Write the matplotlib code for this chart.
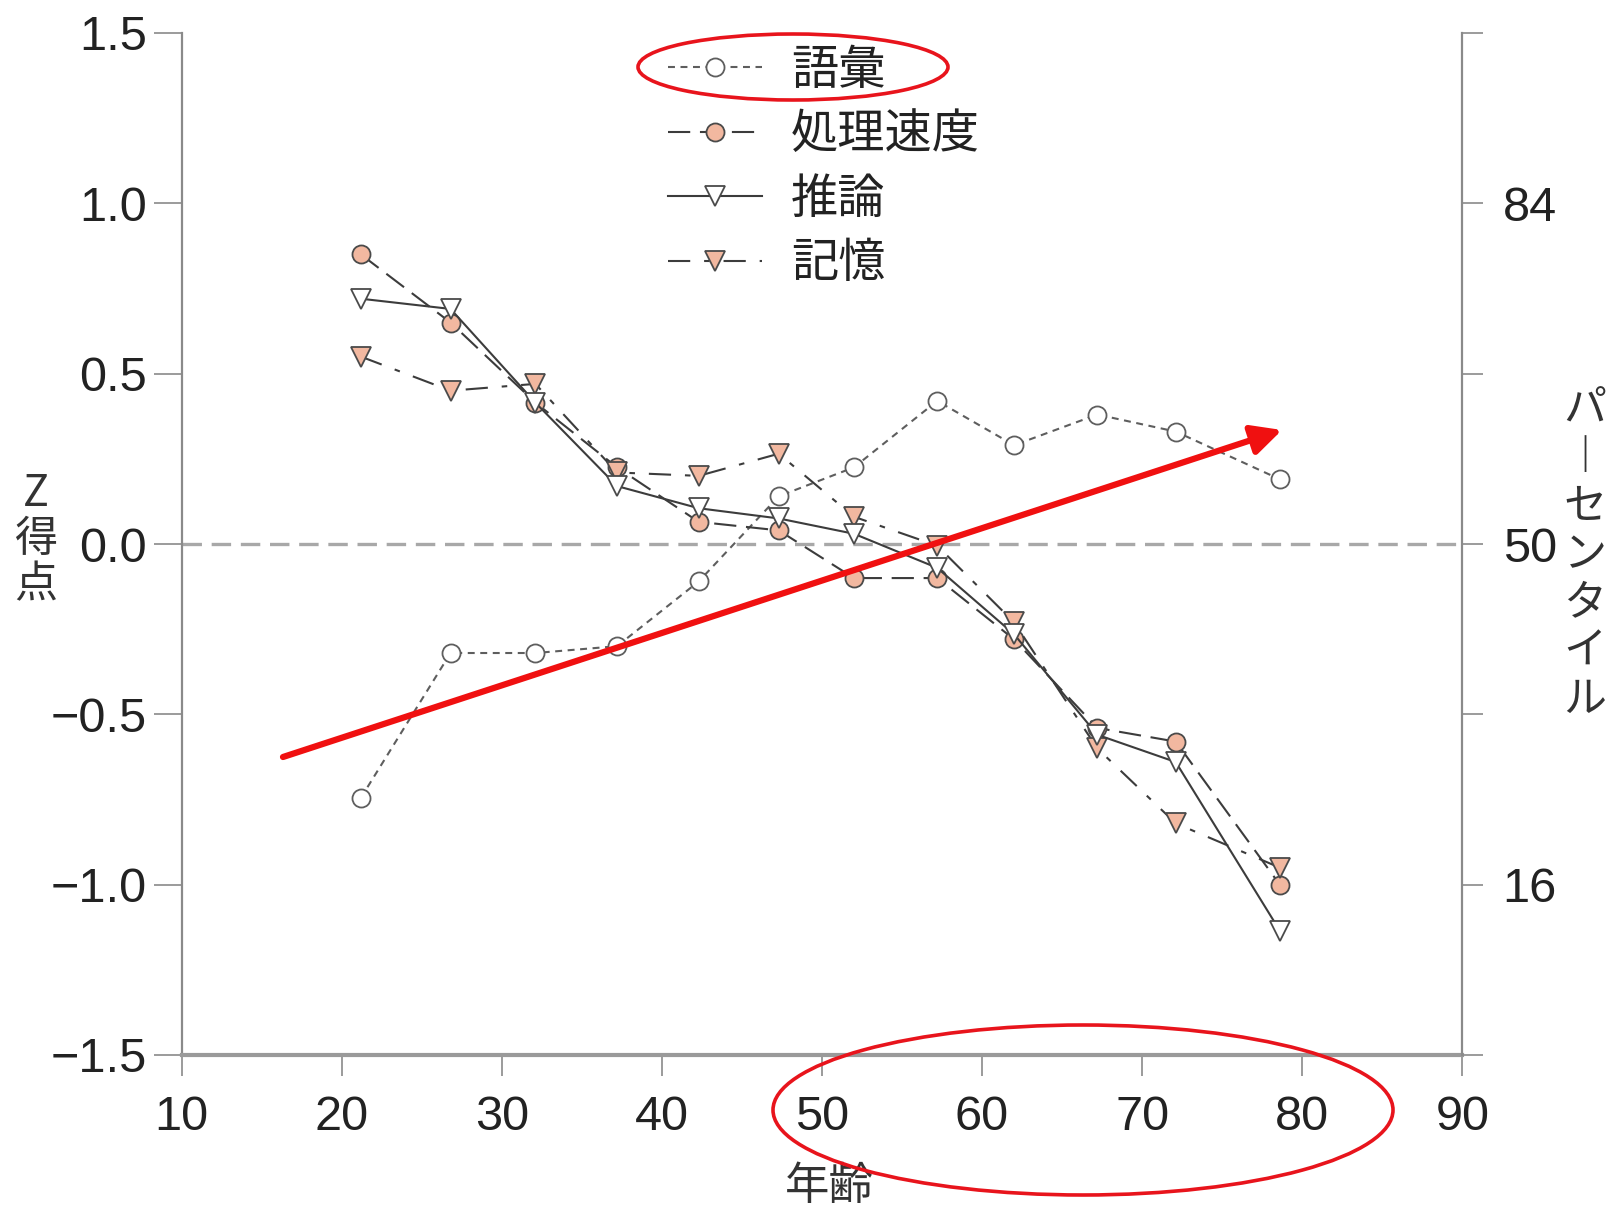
import matplotlib
matplotlib.use("Agg")
import matplotlib.pyplot as plt
from matplotlib.patches import Ellipse

plt.rcParams['font.family'] = ['Noto Sans CJK JP', 'DejaVu Sans']
plt.rcParams['lines.scale_dashes'] = False
plt.rcParams['axes.unicode_minus'] = True

# Age groups and mean Z scores per cognitive domain
ages = [21.2, 26.8, 32.1, 37.2, 42.3, 47.3, 52.0, 57.2, 62.0, 67.2, 72.1, 78.6]
vocab = [-0.745, -0.32, -0.32, -0.30, -0.11, 0.14, 0.225, 0.42, 0.29, 0.38, 0.33, 0.19]
speed = [0.85, 0.65, 0.415, 0.225, 0.065, 0.04, -0.10, -0.10, -0.28, -0.54, -0.58, -1.00]
reasoning = [0.72, 0.69, 0.415, 0.17, 0.105, 0.075, 0.03, -0.07, -0.265, -0.56, -0.64, -1.135]
memory = [0.55, 0.45, 0.47, 0.21, 0.20, 0.265, 0.08, -0.005, -0.23, -0.60, -0.82, -0.95]

series_labels = ['語彙', '処理速度', '推論', '記憶']
x_ticks = [10, 20, 30, 40, 50, 60, 70, 80, 90]
y_ticks = [-1.5, -1.0, -0.5, 0.0, 0.5, 1.0, 1.5]
y_ticklabels = ['\u22121.5', '\u22121.0', '\u22120.5', '0.0', '0.5', '1.0', '1.5']
pct_ticklabels = ['', '16', '', '50', '', '84', '']

W, H = 1609, 1212
fig = plt.figure(figsize=(W / 100, H / 100), dpi=100)
ax = fig.add_axes([181.6 / W, 1 - 1055 / H, (1462.3 - 181.6) / W, (1055 - 33) / H])

salmon = '#f2b8a0'
edge = '#4a4a4a'
line_c = '#3c3c3c'

ax.axhline(0, color='#a8a8a8', lw=2.4, dashes=(14, 7), zorder=1)

ax.plot(ages, vocab, color='#5e5e5e', lw=1.5, dashes=(5, 4),
        marker='o', ms=13, mfc='white', mec='#5e5e5e', mew=1.3,
        label=series_labels[0], zorder=3)
ax.plot(ages, speed, color=line_c, lw=1.5, dashes=(16, 7),
        marker='o', ms=13, mfc=salmon, mec=edge, mew=1.3,
        label=series_labels[1], zorder=3)
ax.plot(ages, reasoning, color=line_c, lw=1.5, linestyle='-',
        marker='v', ms=14, mfc='white', mec=edge, mew=1.3,
        label=series_labels[2], zorder=4)
ax.plot(ages, memory, color=line_c, lw=1.5, dashes=(16, 10, 4, 10),
        marker='v', ms=14, mfc=salmon, mec=edge, mew=1.3,
        label=series_labels[3], zorder=3)

ax.set_xlim(10, 90)
ax.set_ylim(-1.5, 1.5)
ax.set_xticks(x_ticks)
ax.set_yticks(y_ticks)
ax.set_yticklabels(y_ticklabels)

for s in ['top', 'right']:
    ax.spines[s].set_visible(False)
ax.spines['left'].set_color('#8a8a8a')
ax.spines['left'].set_linewidth(1.6)
ax.spines['bottom'].set_color('#9a9a9a')
ax.spines['bottom'].set_linewidth(3.0)

ax.tick_params(axis='y', direction='out', length=20, width=1.2, color='#8a8a8a',
               pad=5, labelsize=35, labelcolor='#222222')
ax.tick_params(axis='x', direction='out', length=15, width=1.2, color='#8a8a8a',
               pad=14, labelsize=35, labelcolor='#222222')
for lab in ax.get_yticklabels():
    lab.set_family(['Liberation Sans', 'DejaVu Sans'])
for lab in ax.get_xticklabels():
    lab.set_family(['Liberation Sans Narrow', 'Liberation Sans', 'DejaVu Sans'])

# Percentile scale on the right
ax2 = ax.twinx()
ax2.set_ylim(-1.5, 1.5)
ax2.set_yticks(y_ticks)
ax2.set_yticklabels(pct_ticklabels)
for s in ['top', 'left', 'bottom']:
    ax2.spines[s].set_visible(False)
ax2.spines['right'].set_color('#8a8a8a')
ax2.spines['right'].set_linewidth(1.6)
ax2.tick_params(axis='y', direction='out', length=15, width=1.2, color='#8a8a8a',
                pad=14, labelsize=35, labelcolor='#222222')
for lab in ax2.get_yticklabels():
    lab.set_family(['Liberation Sans', 'DejaVu Sans'])

# Axis titles, stacked vertically
fig.text(36 / W, 1 - 540 / H, 'Z\n得\n点', ha='center', va='center',
         fontsize=31, color='#333333', linespacing=1.05)
fig.text(1585 / W, 1 - 555 / H, 'パ\n︱\nセ\nン\nタ\nイ\nル', ha='center', va='center',
         fontsize=31, color='#333333', linespacing=1.13,
         family=['Noto Sans CJK JP', 'DejaVu Sans'])
fig.text(829 / W, 1 - 1209 / H, '年齢', ha='center', va='bottom',
         fontsize=32, color='#333333')

leg = ax.legend(loc='upper left', bbox_to_anchor=(668 / W, 1 - 46 / H),
                bbox_transform=fig.transFigure, frameon=False, fontsize=34,
                handlelength=2.0, handletextpad=0.6, labelspacing=0.34,
                borderpad=0, borderaxespad=0)
for t in leg.get_texts():
    t.set_color('#222222')

# Red highlight marks drawn over the figure
ov = fig.add_axes([0, 0, 1, 1], zorder=10)
ov.set_xlim(0, W)
ov.set_ylim(H, 0)
ov.axis('off')
ov.patch.set_alpha(0)
ov.add_patch(Ellipse((793, 67), 310, 66, fill=False, ec='#e8141c', lw=2.6))
ov.add_patch(Ellipse((1083, 1110), 620, 170, fill=False, ec='#e8141c', lw=2.6))
ov.annotate('', xy=(1282, 430), xytext=(283, 757),
            arrowprops=dict(arrowstyle='-|>', color='#f01010', lw=4.5,
                            mutation_scale=45, shrinkA=0, shrinkB=0))

fig.savefig('out.png', dpi=100)
